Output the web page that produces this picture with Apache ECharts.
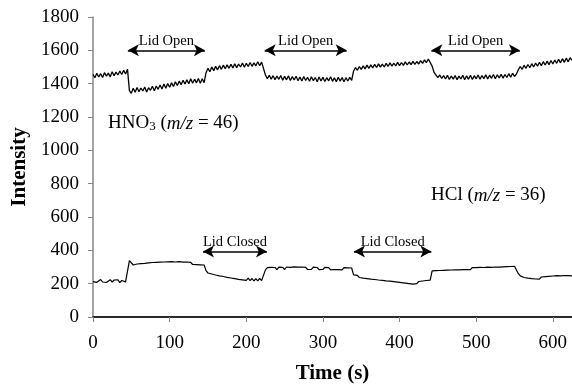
<!DOCTYPE html>
<html>
<head>
<meta charset="utf-8">
<script src="https://cdn.jsdelivr.net/npm/echarts@6/dist/echarts.min.js"></script>
<style>html,body{margin:0;padding:0;background:#fff;}#c{width:572px;height:390px;}</style>
</head>
<body>
<div id="c"></div>
<script>
// sampling grid (seconds)
const timeStart = 0;
const timeStep = 2.5;

// HNO3 (m/z = 46) intensity
const hno3 = [
1455,1436,1462,1440,1460,1437,1466,1445,1463,1441,1471,1448,1469,1452,1476,1455,1480,1458,1487,
1358,1342,1372,1349,1377,1352,1374,1356,1380,1350,1376,1360,1384,1357,1386,1366,1392,1368,1398,1372,
1401,1378,1406,1383,1412,1389,1415,1394,1421,1398,1424,1400,1430,1403,1427,1405,1431,1402,1429,1406,
1466,1492,1472,1500,1478,1504,1483,1508,1486,1511,1490,1513,1492,1517,1494,1520,1496,1518,1500,1524,
1499,1522,1503,1527,1504,1525,1507,1531,1508,1529,1520,
1452,1430,1450,1427,1448,1424,1446,1426,1449,1421,1444,1423,1447,1419,1442,1422,1445,1418,1440,1416,
1443,1419,1438,1415,1441,1418,1437,1412,1440,1416,1438,1413,1436,1417,1441,1414,1435,1411,1439,1415,
1437,1412,1436,1416,1438,1420,
1476,1496,1480,1503,1486,1507,1489,1511,1492,1513,1495,1516,1497,1519,1499,1517,1500,1522,1503,1525,
1505,1523,1506,1528,1508,1527,1510,1531,1512,1530,1514,1534,1516,1533,1518,1538,1522,1543,1526,1548,1536,
1505,1468,1458,1436,1452,1431,1448,1428,1450,1425,1446,1427,1449,1424,1445,1428,1451,1423,1447,1426,
1450,1425,1448,1429,1452,1427,1449,1430,1454,1428,1451,1432,1455,1430,1453,1434,1457,1433,1455,1437,
1460,1439,1462,1444,1458,
1484,1503,1486,1510,1492,1515,1496,1520,1500,1524,1505,1528,1508,1532,1512,1535,1514,1539,1518,1542,
1522,1546,1525,1550,1528,1553,1531,1556,1540
];

// HCl (m/z = 36) intensity
const hcl = [
212,222,208,219,225,210,221,207,218,224,209,222,213,223,206,219,226,211,220,
338,326,312,305,318,308,320,310,322,312,325,313,327,315,328,316,329,317,330,318,
331,319,332,320,330,318,332,320,329,317,330,318,328,315,327,314,326,313,324,312,
278,264,273,258,268,252,263,247,259,243,254,238,250,234,246,230,242,226,238,223,
235,220,233,218,231,216,230,217,232,218,230,
283,296,285,298,286,297,284,299,287,298,285,300,288,298,286,301,289,299,287,300,
288,298,285,297,286,299,287,297,284,296,285,298,286,296,283,295,285,297,284,295,
283,296,285,295,284,294,
253,241,250,237,246,233,243,230,240,227,237,225,235,222,233,220,230,217,228,215,
225,212,223,209,220,206,217,203,214,200,211,197,209,200,213,202,216,205,219,208,221,
277,289,278,290,279,291,280,292,281,293,282,294,283,295,283,294,284,296,285,295,
284,297,286,296,285,298,287,297,286,299,288,298,287,300,289,299,288,301,290,302,
291,303,292,304,299,
260,247,250,237,246,233,243,230,241,228,239,227,240,229,242,231,244,233,246,235,
248,236,247,235,249,237,248,236,247
];

// annotation intervals (seconds) and levels (intensity)
const lidOpenSpans = [[45.5, 146], [224, 331], [441.5, 557]];
const lidOpenLevel = 1600;
const lidClosedSpans = [[143.5, 227], [340.5, 441.5]];
const lidClosedLevel = 393;

const xTicks = [0, 100, 200, 300, 400, 500, 600];

const FONT = '"Liberation Serif", "Times New Roman", serif';

const toPairs = arr => arr.map((v, i) => [timeStart + i * timeStep, v]);

function arrows(spans, level, text) {
  return spans.map(s => [
    { coord: [s[0], level], label: { formatter: text } },
    { coord: [s[1], level] }
  ]);
}

const chart = echarts.init(document.getElementById('c'), null, { renderer: 'canvas' });

const markLineCommon = {
  silent: true,
  symbol: ['arrow', 'arrow'],
  symbolSize: [9, 11],
  lineStyle: { color: '#000', width: 1.5, type: 'solid' },
  label: {
    show: true,
    position: 'middle',
    distance: 2,
    color: '#000',
    fontFamily: FONT,
    fontSize: 14.5
  },
  emphasis: { disabled: true },
  animation: false
};

chart.setOption({
  animation: false,
  backgroundColor: '#fff',
  grid: { left: 93, right: 0, top: 17, bottom: 73, outerBoundsMode: 'none', containLabel: false },
  xAxis: [{
    type: 'value',
    min: 0, max: 625, interval: 100,
    name: 'Time (s)',
    nameLocation: 'middle',
    nameGap: 46,
    nameTextStyle: { fontFamily: FONT, fontSize: 21, fontWeight: 'bold', color: '#000' },
    axisLine: { show: true, onZero: false, lineStyle: { color: '#868686', width: 1.5 } },
    axisTick: { show: true, length: 5, lineStyle: { color: '#868686' } },
    splitLine: { show: false },
    axisLabel: {
      fontFamily: FONT, fontSize: 19, color: '#000', margin: 17,
      formatter: v => (xTicks.indexOf(v) >= 0 ? String(v) : '')
    }
  }, {
    type: 'value',
    position: 'top',
    min: 0, max: 625,
    axisLine: { show: true, lineStyle: { color: '#000', width: 1.5 } },
    axisTick: { show: false },
    axisLabel: { show: false },
    splitLine: { show: false }
  }],
  yAxis: {
    type: 'value',
    min: 0, max: 1800, interval: 200,
    name: 'Intensity',
    nameLocation: 'middle',
    nameGap: 62,
    nameTextStyle: { fontFamily: FONT, fontSize: 21, fontWeight: 'bold', color: '#000' },
    axisLine: { show: true, lineStyle: { color: '#868686', width: 1.5 } },
    axisTick: { show: true, length: 5, lineStyle: { color: '#868686' } },
    splitLine: { show: false },
    axisLabel: { fontFamily: FONT, fontSize: 19, color: '#000', margin: 14, formatter: v => String(v) }
  },
  series: [{
    name: 'HNO3',
    type: 'line',
    data: toPairs(hno3),
    showSymbol: false,
    lineStyle: { color: '#000', width: 1.3 },
    itemStyle: { color: '#000' },
    markLine: Object.assign({}, markLineCommon, { data: arrows(lidOpenSpans, lidOpenLevel, 'Lid Open') })
  }, {
    name: 'HCl',
    type: 'line',
    data: toPairs(hcl),
    showSymbol: false,
    lineStyle: { color: '#000', width: 1.2 },
    itemStyle: { color: '#000' },
    markLine: Object.assign({}, markLineCommon, { data: arrows(lidClosedSpans, lidClosedLevel, 'Lid Closed') })
  }],
  graphic: [{
    type: 'text',
    left: 108,
    top: 114,
    style: {
      text: '{n|HNO}{s|3}{n| (}{i|m/z}{n| = 46)}',
      rich: {
        n: { fontFamily: FONT, fontSize: 19, color: '#000', lineHeight: 26, verticalAlign: 'bottom' },
        i: { fontFamily: FONT, fontSize: 19, fontStyle: 'italic', color: '#000', lineHeight: 26, verticalAlign: 'bottom' },
        s: { fontFamily: FONT, fontSize: 13, color: '#000', lineHeight: 13, verticalAlign: 'bottom' }
      }
    }
  }, {
    type: 'text',
    left: 431,
    top: 186,
    style: {
      text: '{n|HCl (}{i|m/z}{n| = 36)}',
      rich: {
        n: { fontFamily: FONT, fontSize: 19, color: '#000', lineHeight: 26, verticalAlign: 'bottom' },
        i: { fontFamily: FONT, fontSize: 19, fontStyle: 'italic', color: '#000', lineHeight: 26, verticalAlign: 'bottom' }
      }
    }
  }]
});
</script>
</body>
</html>
